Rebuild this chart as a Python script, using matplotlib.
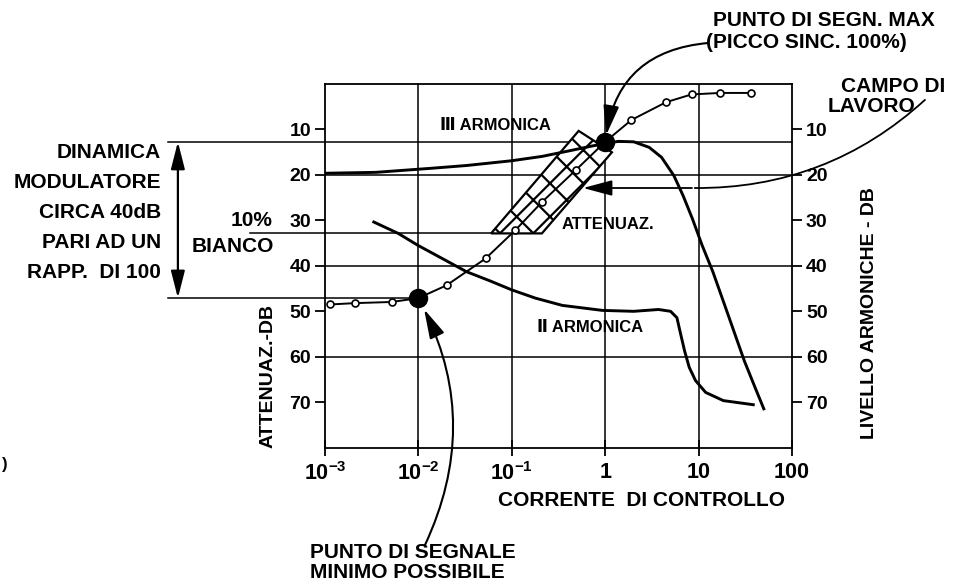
import matplotlib.pyplot as plt
from matplotlib.patches import Polygon, FancyArrowPatch
from matplotlib.ticker import NullLocator
from matplotlib.transforms import blended_transform_factory

plt.rcParams['font.family'] = ['Liberation Sans', 'DejaVu Sans']
plt.rcParams['font.weight'] = 'bold'
plt.rcParams['mathtext.fontset'] = 'custom'
plt.rcParams['mathtext.rm'] = 'Liberation Sans:bold'
plt.rcParams['mathtext.it'] = 'Liberation Sans:bold'
plt.rcParams['mathtext.bf'] = 'Liberation Sans:bold'
plt.rcParams['hatch.linewidth'] = 1.6

W, H = 957, 587

# axis ticks
x_ticks = [1e-3, 1e-2, 1e-1, 1, 10, 100]
x_tick_labels = [r'$10^{-3}$', r'$10^{-2}$', r'$10^{-1}$', '1', '10', '100']
y_ticks = [10, 20, 30, 40, 50, 60, 70]
grid_x = [1e-2, 1e-1, 1, 10]
grid_y = [20, 40, 60]

# attenuation curve (open circles), two marked points (filled)
att_x = [0.00113, 0.00211, 0.00518, 0.01, 0.02, 0.0525, 0.109, 0.211, 0.49,
         1.0, 1.91, 4.49, 8.4, 17.1, 36.2]
att_y = [48.5, 48.2, 47.95, 47.1, 44.3, 38.4, 32.2, 26.0, 18.9,
         12.8, 8.0, 4.1, 2.4, 2.07, 2.07]
dot_x = [0.01, 1.0]
dot_y = [47.1, 12.8]

# III armonica
iii_x = [0.001, 0.0035, 0.0139, 0.0327, 0.1, 0.211, 0.407, 0.73, 1.38, 2.02,
         2.95, 4.01, 5.43, 6.82, 8.59, 10.9, 14.2, 18.4, 23.8, 30.9, 40.2, 49.9]
iii_y = [19.7, 19.5, 18.6, 18.0, 16.95, 16.0, 14.8, 13.7, 12.7, 12.8,
         14.0, 16.2, 20.2, 24.6, 29.7, 35.5, 41.3, 47.8, 54.3, 60.9, 66.7, 71.4]

# II armonica
ii_x = [0.00333, 0.00608, 0.00984, 0.01795, 0.0327, 0.0597, 0.1, 0.1786, 0.347,
        0.933, 2.02, 3.72, 5.01, 5.86, 6.31, 7.08, 7.94, 9.27, 11.9, 18.4, 38.5]
ii_y = [30.4, 32.9, 35.5, 38.4, 41.3, 43.4, 45.3, 47.1, 48.7,
        49.8, 50.0, 49.6, 50.0, 51.4, 54.3, 58.7, 62.3, 65.2, 67.8, 69.6, 70.5]

# campo di lavoro (hatched band)
band_x = [0.06, 0.21, 1.18, 0.52]
band_y = [32.9, 32.9, 15.1, 10.4]

# reference levels
level_max = 12.8
level_min = 47.1
level_white = 32.9


def px(x, y):
    """pixel position (from top-left) -> figure fraction"""
    return (x / W, 1 - y / H)


fig = plt.figure(figsize=(W / 100, H / 100), dpi=100)
ax = fig.add_axes([325 / W, 1 - 448 / H, 467 / W, 364.5 / H])

ax.set_xscale('log')
ax.set_xlim(1e-3, 100)
ax.set_ylim(80, 0)
ax.set_xticks(x_ticks, x_tick_labels)
ax.xaxis.set_minor_locator(NullLocator())
ax.set_yticks(y_ticks)
for s in ax.spines.values():
    s.set_linewidth(1.3)
ax.tick_params(axis='y', direction='out', length=7, width=1.3, labelsize=14,
               right=True, labelright=True, pad=3)
ax.tick_params(axis='x', direction='inout', length=12, width=1.3,
               labelsize=15.5, pad=4)

# grid
for gx in grid_x:
    ax.axvline(gx, color='black', lw=1.1, zorder=1)
for gy in grid_y:
    ax.axhline(gy, color='black', lw=1.1, zorder=1)

# reference lines extending to the left annotation
ax.axhline(level_max, xmin=-0.337, xmax=1.0, color='black', lw=1.1,
           clip_on=False, zorder=1)
ax.axhline(level_min, xmin=-0.337, xmax=0.2, color='black', lw=1.1,
           clip_on=False, zorder=1)
ax.axhline(level_white, xmin=-0.16, xmax=0.4, color='black', lw=1.1,
           clip_on=False, zorder=1)

# hatched band
band = Polygon(list(zip(band_x, band_y)), closed=True, facecolor='white',
               edgecolor='black', hatch='x', lw=1.6, zorder=2)
ax.add_patch(band)

# curves
ax.plot(iii_x, iii_y, color='black', lw=2.1, zorder=3)
ax.plot(ii_x, ii_y, color='black', lw=2.1, zorder=3)
ax.plot(att_x, att_y, color='black', lw=1.4, marker='o', markersize=5,
        markerfacecolor='white', markeredgewidth=1.2, zorder=4)
ax.plot(dot_x, dot_y, 'o', color='black', markersize=13, zorder=5)

# double arrow (dinamica)
trans = blended_transform_factory(ax.transAxes, ax.transData)
ax.annotate('', xy=(-0.315, level_max), xycoords=trans,
            xytext=(-0.315, level_min), textcoords=trans,
            arrowprops=dict(arrowstyle='<|-|>,head_length=1.1,head_width=0.28',
                            color='black', lw=1.6, shrinkA=0, shrinkB=0,
                            mutation_scale=15),
            annotation_clip=False)

# punto di segnale max
ax.annotate('', xy=(dot_x[1], dot_y[1]), xycoords='data',
            xytext=px(708, 43), textcoords='figure fraction',
            arrowprops=dict(arrowstyle='-|>,head_length=1.2,head_width=0.32',
                            connectionstyle='arc3,rad=0.4', color='black',
                            lw=1.5, shrinkA=0, shrinkB=5, mutation_scale=15),
            annotation_clip=False)

# punto di segnale minimo
ax.annotate('', xy=(dot_x[0], dot_y[0]), xycoords='data',
            xytext=px(425, 545), textcoords='figure fraction',
            arrowprops=dict(arrowstyle='-|>,head_length=1.2,head_width=0.32',
                            connectionstyle='arc3,rad=0.25', color='black',
                            lw=1.5, shrinkA=0, shrinkB=9, mutation_scale=15),
            annotation_clip=False)

# campo di lavoro pointer
ax.annotate('', xy=px(583, 188), xycoords='figure fraction',
            xytext=px(692, 188), textcoords='figure fraction',
            arrowprops=dict(arrowstyle='-|>,head_length=1.2,head_width=0.32',
                            color='black', lw=1.3, shrinkA=0, shrinkB=0,
                            mutation_scale=15),
            annotation_clip=False)
fig.add_artist(FancyArrowPatch(px(692, 188), px(927, 98),
                               transform=fig.transFigure, arrowstyle='-',
                               connectionstyle='arc3,rad=0.2',
                               color='black', lw=1.3))

# texts
dinamica = ['DINAMICA', 'MODULATORE', 'CIRCA 40dB', 'PARI AD UN',
            'RAPP.  DI 100']
for i, line in enumerate(dinamica):
    fig.text(*px(161, 152 + i * 30.2), line, ha='right', va='center',
             fontsize=15)
fig.text(*px(273, 220), '10%', ha='right', va='center', fontsize=15)
fig.text(*px(192, 247), 'BIANCO', ha='left', va='center', fontsize=15)

fig.text(*px(268, 376), 'ATTENUAZ.-DB', rotation=90, ha='center',
         va='center', fontsize=14)
fig.text(*px(869, 313), 'LIVELLO ARMONICHE - DB', rotation=90, ha='center',
         va='center', fontsize=14)
fig.text(*px(641, 500), 'CORRENTE  DI CONTROLLO', ha='center', va='center',
         fontsize=15)

fig.text(*px(713, 21), 'PUNTO DI SEGN. MAX', ha='left', va='center',
         fontsize=15)
fig.text(*px(706, 43), '(PICCO SINC. 100%)', ha='left', va='center',
         fontsize=15)
fig.text(*px(945, 86), 'CAMPO DI', ha='right', va='center', fontsize=15)
fig.text(*px(828, 106), 'LAVORO', ha='left', va='center', fontsize=15)

fig.text(*px(310, 553), 'PUNTO DI SEGNALE', ha='left', va='center',
         fontsize=15)
fig.text(*px(310, 573), 'MINIMO POSSIBILE', ha='left', va='center',
         fontsize=15)

fig.text(*px(440, 126), 'Ⅲ ARMONICA', ha='left', va='center', fontsize=12)
fig.text(*px(537, 327), 'Ⅱ ARMONICA', ha='left', va='center', fontsize=12)
fig.text(*px(562, 224), 'ATTENUAZ.', ha='left', va='center', fontsize=12)
fig.text(*px(8, 465), ')', ha='right', va='center', fontsize=12)

fig.savefig('out.png', dpi=100)
